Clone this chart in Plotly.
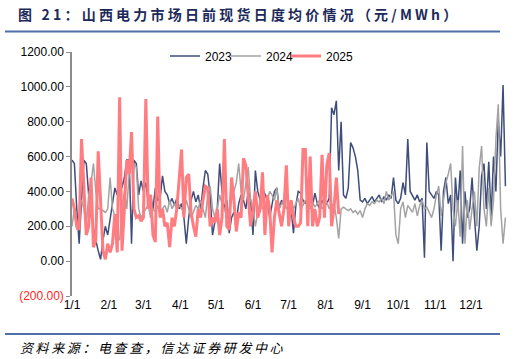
import plotly.graph_objects as go

# ---------------- data ----------------
DAY_STEP = 2  # values below are sampled every 2 days, starting 1/1

MONTH_TICK_DAYS = [0, 31, 60, 91, 121, 152, 182, 213, 244, 274, 305, 335]
MONTH_TICK_LABELS = ["1/1", "2/1", "3/1", "4/1", "5/1", "6/1",
                     "7/1", "8/1", "9/1", "10/1", "11/1", "12/1"]

Y_TICK_VALUES = [-200, 0, 200, 400, 600, 800, 1000, 1200]
Y_TICK_LABELS = ['<span style="color:#ff1f1f">(200.00)</span>', "0.00", "200.00",
                 "400.00", "600.00", "800.00", "1000.00", "1200.00"]

SERIES_NAMES = ["2023", "2024", "2025"]

VALUES_2023 = [
    580, 560, 300, 100, 350, 580, 560, 380, 260, 180, 120, 60, 10, 120, 200, 150,
    250, 330, 420, 380, 540, 420, 480, 580, 580, 100, 580, 560, 380, 460,
    400, 450, 340, 380, 300, 420, 350, 360, 490, 400, 380, 330, 360, 320, 360,
    300, 330, 250, 100, 250, 350, 400, 340, 380, 300, 420, 520, 500, 380, 150, 230,
    300, 560, 400, 300, 350, 160, 250, 280, 230, 330, 380, 350, 300, 400, 350,
    150, 520, 400, 350, 420, 380, 350, 250, 330, 400, 420, 300, 350, 320, 380,
    330, 300, 160, 320, 400, 390, 350, 330, 370, 350, 320, 390, 330, 300, 350, 320,
    330, 360, 880, 840, 920, 520, 800, 380, 360, 420, 680, 650, 600, 520, 350,
    340, 360, 330, 350, 370, 340, 360, 380, 340, 370, 350, 380, 360, 480, 350,
    330, 360, 450, 380, 700, 400, 370, 350, 380, 340, 360, 20, 680, 400, 380,
    360, 400, 380, 60, 400, 480, 330, 380, 0, 480, 300, 520, 100, 400, 250,
    300, 480, 250, 60, 200, 490, 560, 300, 570, 250, 600, 400, 820, 600, 1010, 430,
]

VALUES_2024 = [
    200, 300, 180, 250, 350, 300, 200, 380, 450, 560, 400, 300, 300, 290, 280,
    300, 480, 300, 260, 150, 120, 300, 400, 300, 500, 550, 560, 540, 300, 250,
    280, 300, 320, 250, 300, 280, 320, 250, 300, 320, 280, 350, 300, 330, 300,
    320, 300, 280, 350, 300, 250, 280, 320, 300, 350, 300, 250, 380, 430, 300,
    250, 300, 380, 330, 300, 250, 300, 350, 400, 450, 560, 400, 350, 450, 540,
    350, 300, 200, 280, 350, 300, 320, 350, 400, 380, 350, 420, 300, 330, 350, 300,
    320, 350, 300, 330, 360, 300, 320, 350, 330, 300, 340, 310, 330, 350, 300,
    320, 340, 300, 320, 330, 250, 130, 300, 310, 300, 290, 300, 280, 290, 270,
    290, 250, 300, 330, 320, 340, 330, 350, 340, 360, 330, 400, 350, 380, 400, 150,
    100, 300, 340, 250, 320, 300, 280, 330, 260, 320, 350, 300, 310, 280, 250,
    300, 380, 430, 260, 350, 450, 500, 560, 300, 200, 350, 140, 660, 100, 350,
    180, 300, 400, 200, 535, 660, 300, 200, 420, 200, 350, 700, 900, 300, 100, 250,
]

VALUES_2025 = [
    360, 300, 200, 180, 700, 400, 150, 200, 480, 80,
    120, 630, 300, 60, 10, 100, 50, 100, 270, 50,
    940, 60, 300, 580, 500, 740, 300, 250, 260, 230,
    250, 930, 300, 380, 150, 110, 830, 250, 300, 200,
    220, 80, 250, 200, 300, 480, 640, 250, 480, 500,
    280, 200, 140, 300, 250, 350, 430, 420, 200, 250,
    220, 300, 150, 250, 700, 200, 180, 480, 350, 170,
    280, 250, 590, 550, 350, 200, 300, 400, 250, 300,
    510, 150, 380, 300, 50, 250, 350, 280, 200, 300,
    550, 200, 350, 250, 200, 200, 220, 640, 640, 200,
    600, 200, 300, 200, 250, 610, 250, 550, 620, 200,
    300, 480, 270,
]

SERIES_VALUES = [VALUES_2023, VALUES_2024, VALUES_2025]
SERIES_COLORS = ["#3f4d7a", "#a3a3a3", "#ff7c80"]
SERIES_WIDTHS = [1.5, 1.5, 3]

TITLE_TEXT = "图 21：山西电力市场日前现货日度均价情况（元/MWh）"
SOURCE_TEXT = "资料来源：电查查，信达证券研发中心"

# ---------------- figure ----------------
W, H = 515, 359
ML, MR, MT, MB = 72, 6, 52, 63
PW, PH = W - ML - MR, H - MT - MB


def px_to_paper_x(px):
    return (px - ML) / PW


def px_to_paper_y(py):
    return (H - MB - py) / PH


LEGEND_IDS = ["legend", "legend2", "legend3"]
LEGEND_LEFT_PX = [165, 226, 286]

fig = go.Figure()
for name, vals, color, width, lid in zip(SERIES_NAMES, SERIES_VALUES, SERIES_COLORS,
                                          SERIES_WIDTHS, LEGEND_IDS):
    fig.add_trace(go.Scatter(
        x=[i * DAY_STEP for i in range(len(vals))],
        y=vals,
        mode="lines",
        name=name,
        legend=lid,
        line=dict(color=color, width=width),
    ))

y_min, y_max = Y_TICK_VALUES[0], Y_TICK_VALUES[-1]
x_range = [0, 367]

legend_layout = {}
for lid, left in zip(LEGEND_IDS, LEGEND_LEFT_PX):
    legend_layout[lid] = dict(
        orientation="h", x=px_to_paper_x(left), xanchor="left",
        y=px_to_paper_y(56), yanchor="middle",
        font=dict(size=12, color="#000000"), bgcolor="rgba(0,0,0,0)",
        itemwidth=30,
    )

fig.update_layout(
    width=W, height=H,
    margin=dict(l=ML, r=MR, t=MT, b=MB),
    paper_bgcolor="white", plot_bgcolor="white",
    font=dict(family="Liberation Sans, Arial, sans-serif", size=12, color="#000000"),
    showlegend=True,
    title=dict(
        text='<b><span style="letter-spacing:3.2px">' + TITLE_TEXT + '</span></b>',
        x=18 / W, xref="container", xanchor="left",
        y=1 - 15 / H, yref="container", yanchor="middle",
        font=dict(family="Noto Sans CJK SC", size=14, color="#1c2a5a"),
    ),
    xaxis=dict(
        range=x_range, tickmode="array", tickvals=MONTH_TICK_DAYS, ticktext=MONTH_TICK_LABELS,
        showline=False, ticks="", showgrid=False, zeroline=False,
        tickfont=dict(size=12, color="#000000"),
    ),
    xaxis2=dict(
        range=x_range, overlaying="x", anchor="free",
        position=(0 - y_min) / (y_max - y_min),
        tickmode="array", tickvals=MONTH_TICK_DAYS, showticklabels=False,
        showline=True, linecolor="#000000", linewidth=1.2,
        ticks="outside", ticklen=4, tickcolor="#000000", tickwidth=1,
        showgrid=False, zeroline=False,
    ),
    yaxis=dict(
        range=[y_min, y_max], tickmode="array", tickvals=Y_TICK_VALUES, ticktext=Y_TICK_LABELS,
        showline=True, linecolor="#8c8c8c", linewidth=1.5,
        ticks="outside", ticklen=4, tickcolor="#8c8c8c",
        showgrid=False, zeroline=False,
        tickfont=dict(size=12, color="#000000"),
    ),
    shapes=[
        dict(type="line", xref="paper", yref="paper",
             x0=px_to_paper_x(5), x1=px_to_paper_x(500),
             y0=px_to_paper_y(31.5), y1=px_to_paper_y(31.5),
             line=dict(color="#4f6fa8", width=2)),
        dict(type="line", xref="paper", yref="paper",
             x0=px_to_paper_x(5), x1=px_to_paper_x(500),
             y0=px_to_paper_y(334), y1=px_to_paper_y(334),
             line=dict(color="#4f6fa8", width=2)),
    ],
    annotations=[
        dict(text='<i><span style="letter-spacing:2.6px">' + SOURCE_TEXT + '</span></i>',
             xref="paper", yref="paper",
             x=px_to_paper_x(18), y=px_to_paper_y(347),
             xanchor="left", yanchor="middle", showarrow=False,
             font=dict(family="Noto Sans CJK SC", size=13, color="#000000")),
    ],
    **legend_layout,
)

fig.write_html("out.html", config={"displayModeBar": False},
               post_script="document.body.style.margin='0';")
